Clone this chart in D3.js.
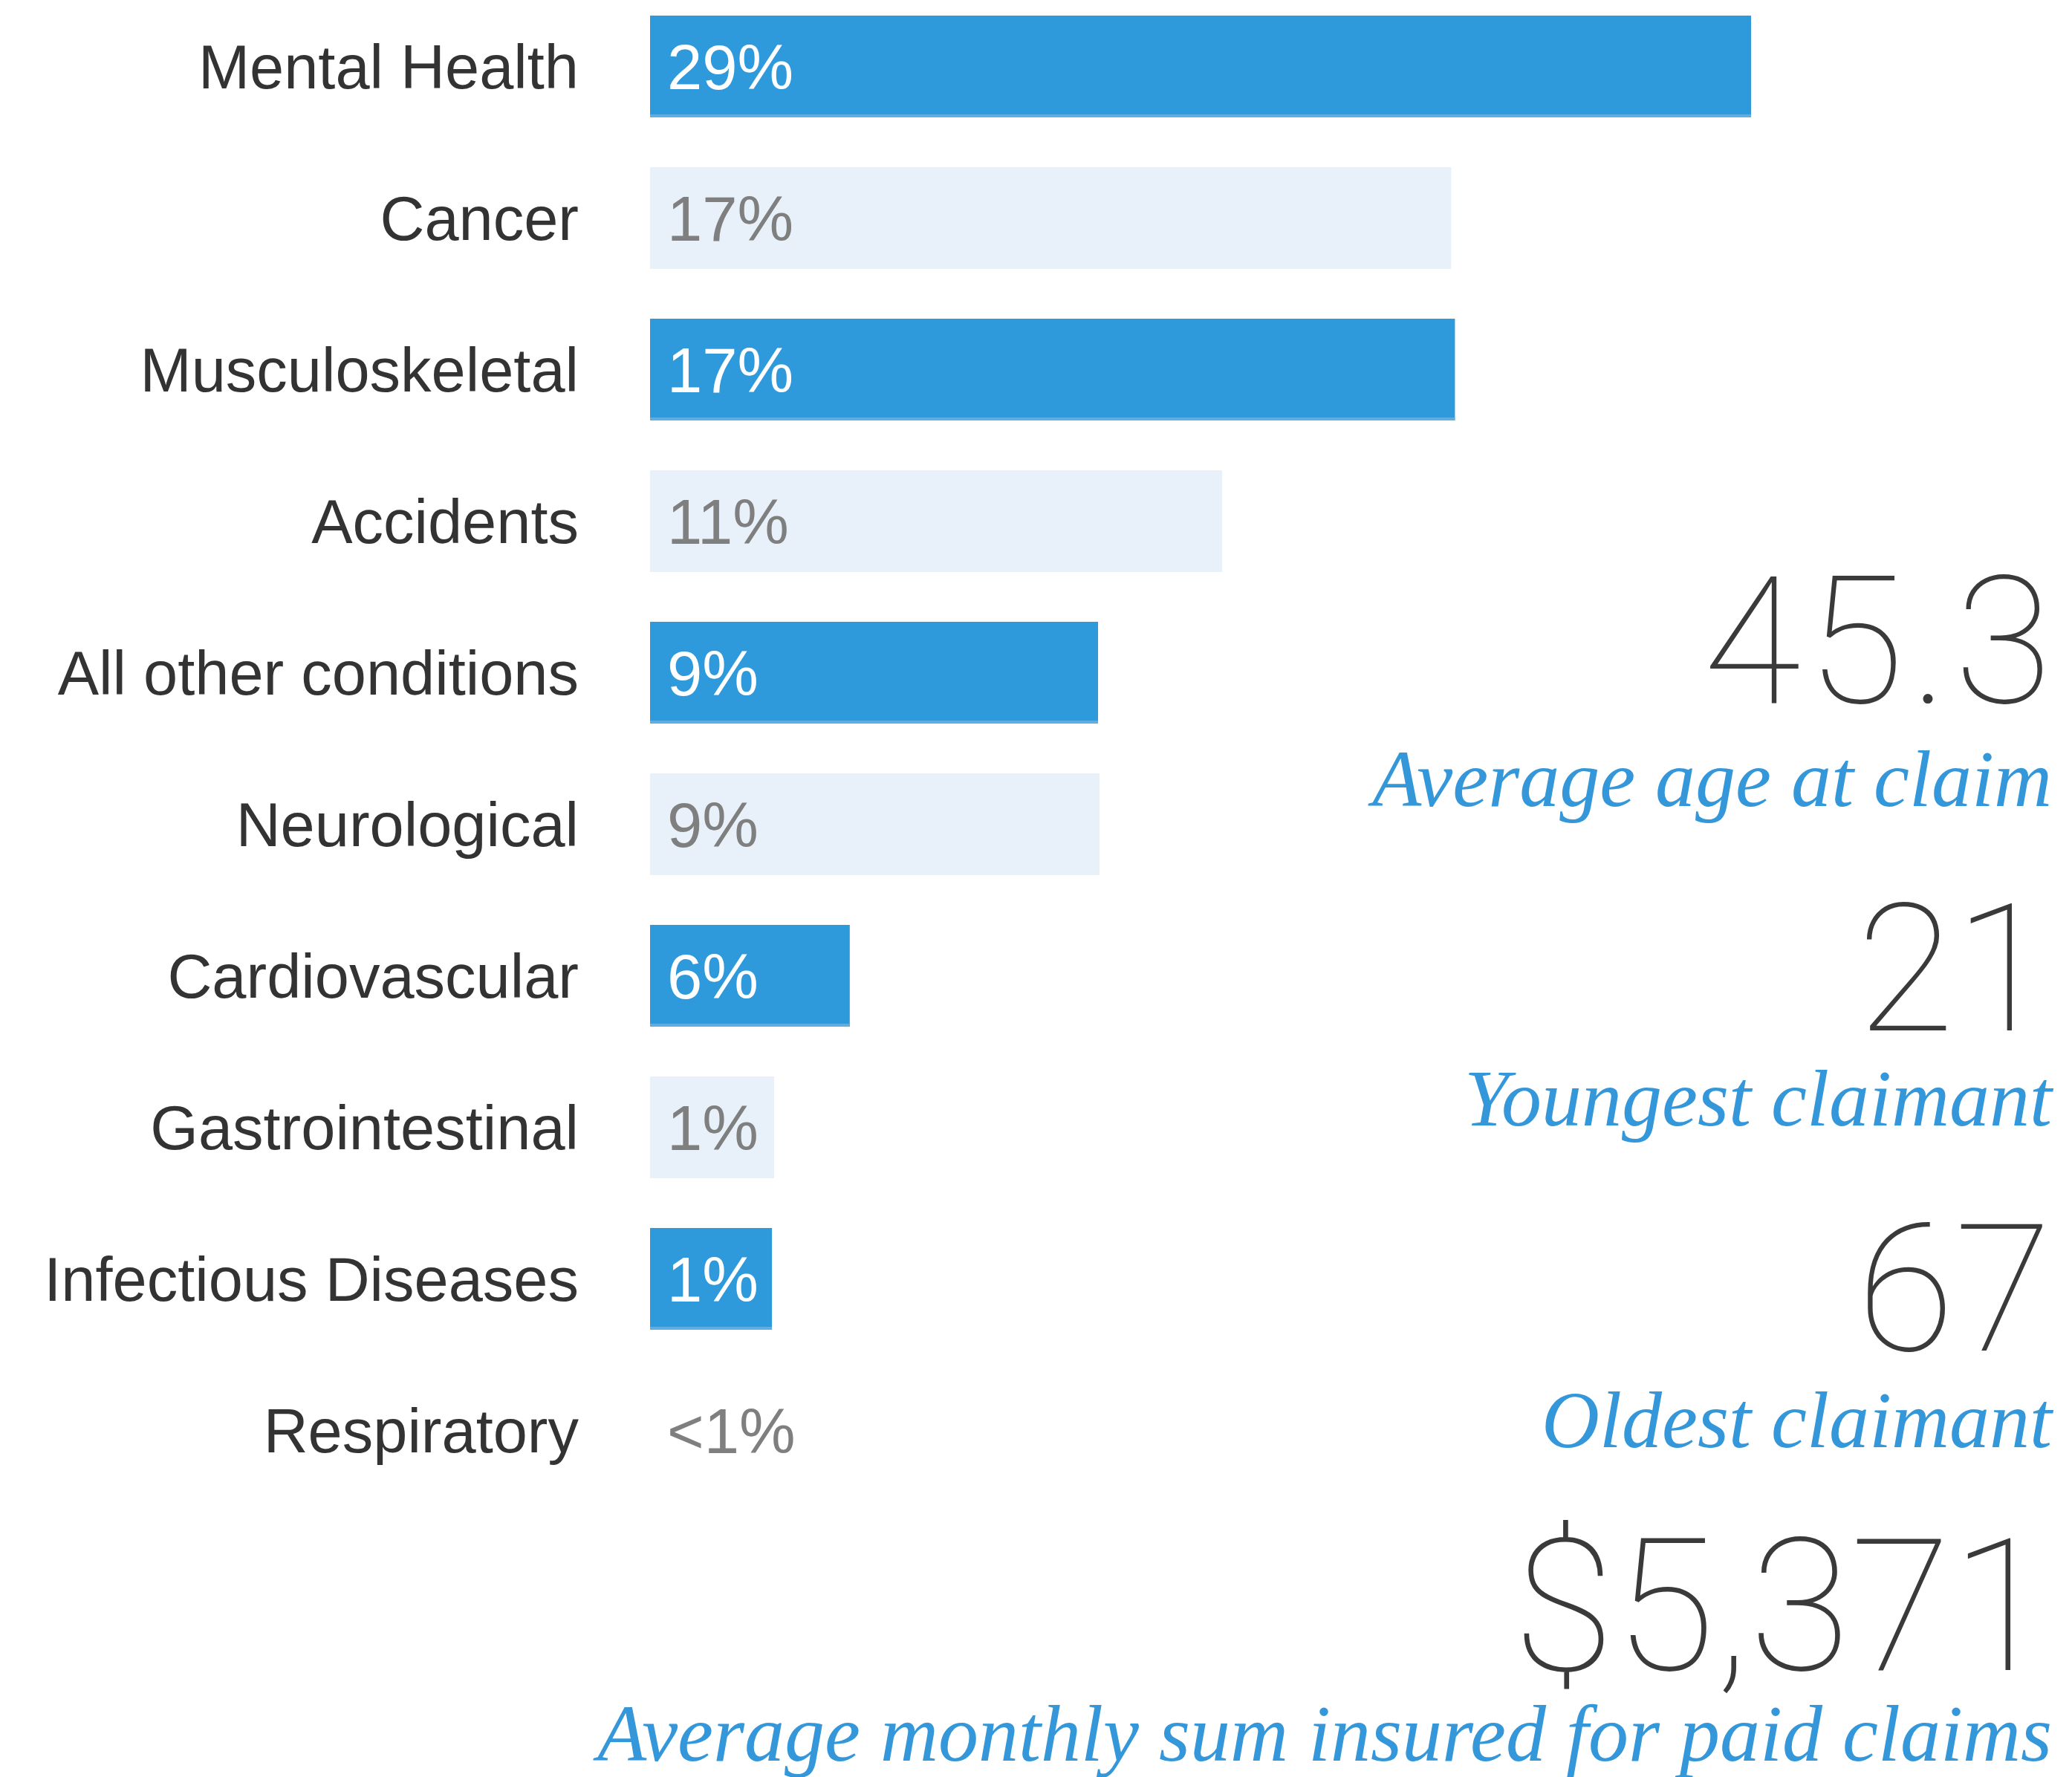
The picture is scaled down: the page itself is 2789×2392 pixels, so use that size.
<!DOCTYPE html>
<html>
<head>
<meta charset="utf-8">
<script src="https://cdn.jsdelivr.net/npm/d3@7"></script>
<style>
  body { margin: 0; background: #fff; }
</style>
</head>
<body>
<div id="chart"></div>
<script>
// Claim causes, top to bottom
const categories = [
  'Mental Health', 'Cancer', 'Musculoskeletal', 'Accidents', 'All other conditions',
  'Neurological', 'Cardiovascular', 'Gastrointestinal', 'Infectious Diseases', 'Respiratory'
];
// Labels printed next to / inside the bars
const percentLabels = ['29%', '17%', '17%', '11%', '9%', '9%', '6%', '1%', '1%', '<1%'];
// Bar lengths as drawn in the source (same units as the 29% bar)
const barLengths = [29, 21.1, 21.2, 15.07, 11.8, 11.84, 5.26, 3.27, 3.21, 0];

// Headline stats on the right
const statValues = ['45.3', '21', '67', '$5,371'];
const statLabels = ['Average age at claim', 'Youngest claimant', 'Oldest claimant',
  'Average monthly sum insured for paid claims'];

const width = 2789;
const height = 2392;

const colors = {
  dark: '#2e9adc',
  darkEdge: '#5eaee4',
  light: '#e8f1fa',
  label: '#333333',
  onDark: '#ffffff',
  onLight: '#7f7f7f',
  bigNum: '#3a3a3a',
  italic: '#3497d9'
};

const data = categories.map((c, i) => ({
  category: c,
  label: percentLabels[i],
  value: barLengths[i],
  dark: i % 2 === 0
}));

const svg = d3.select('#chart')
  .append('svg')
  .attr('width', width)
  .attr('height', height);

// Scales
const x = d3.scaleLinear()
  .domain([0, 29])
  .range([875, 2357]);

const y = d3.scaleBand()
  .domain(categories)
  .range([-12.5, 2027.5])
  .paddingInner(0.3284)
  .paddingOuter(0.1642);

// Bars
svg.selectAll('.bar')
  .data(data.filter(d => d.value > 0))
  .enter()
  .append('rect')
  .attr('class', 'bar')
  .attr('x', x(0))
  .attr('y', d => y(d.category))
  .attr('width', d => x(d.value) - x(0))
  .attr('height', y.bandwidth())
  .attr('fill', d => d.dark ? colors.dark : colors.light);

// thin lighter edge along the bottom of the blue bars
svg.selectAll('.edge')
  .data(data.filter(d => d.value > 0 && d.dark))
  .enter()
  .append('rect')
  .attr('class', 'edge')
  .attr('x', x(0))
  .attr('y', d => y(d.category) + y.bandwidth() - 4)
  .attr('width', d => x(d.value) - x(0))
  .attr('height', 4)
  .attr('fill', colors.darkEdge);

// Category labels
svg.selectAll('.cat')
  .data(data)
  .enter()
  .append('text')
  .attr('class', 'cat')
  .attr('x', 779)
  .attr('y', d => y(d.category) + y.bandwidth() / 2)
  .attr('dy', '0.36em')
  .attr('text-anchor', 'end')
  .style('font-family', '"Liberation Sans", Arial, sans-serif')
  .style('font-size', '83px')
  .style('fill', colors.label)
  .text(d => d.category);

// Percent labels
svg.selectAll('.pct')
  .data(data)
  .enter()
  .append('text')
  .attr('class', 'pct')
  .attr('x', x(0) + 23)
  .attr('y', d => y(d.category) + y.bandwidth() / 2)
  .attr('dy', '0.36em')
  .style('font-family', '"Liberation Sans", Arial, sans-serif')
  .style('font-size', '85px')
  .style('fill', d => (d.dark && d.value > 0) ? colors.onDark : colors.onLight)
  .text(d => d.label);

// Right-hand stats
const numBaselines = [946, 1387, 1818, 2248];
const labelBaselines = [1085, 1515, 1948, 2370];
const numSpacing = [8, 0, 0, 0];

const stats = svg.append('g');

stats.selectAll('.big')
  .data(statValues)
  .enter()
  .append('text')
  .attr('class', 'big')
  .attr('x', (d, i) => 2762 + numSpacing[i])
  .attr('y', (d, i) => numBaselines[i])
  .attr('text-anchor', 'end')
  .style('font-family', 'Roboto, Lato, sans-serif')
  .style('font-weight', 100)
  .style('font-size', (d, i) => i === 3 ? '248px' : '240px')
  .style('letter-spacing', (d, i) => numSpacing[i] + 'px')
  .style('fill', colors.bigNum)
  .text(d => d);

stats.selectAll('.sub')
  .data(statLabels)
  .enter()
  .append('text')
  .attr('class', 'sub')
  .attr('x', 2762)
  .attr('y', (d, i) => labelBaselines[i])
  .attr('text-anchor', 'end')
  .style('font-family', '"Liberation Serif", "DejaVu Serif", serif')
  .style('font-style', 'italic')
  .style('font-size', '108px')
  .style('fill', colors.italic)
  .text(d => d);
</script>
</body>
</html>
